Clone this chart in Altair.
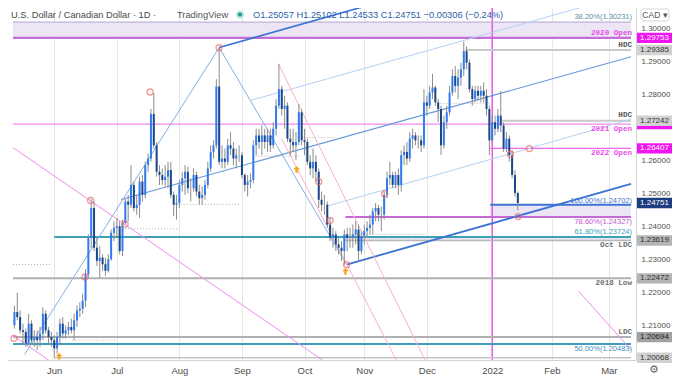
import altair as alt
import pandas as pd

# ---------------- data ----------------
first_open = 1.2105
close = [
    1.2145, 1.2130, 1.2090,
    1.2085, 1.2050, 1.2110, 1.2060, 1.2070,
    1.2060, 1.2080, 1.2140, 1.2090, 1.2070,
    1.2060, 1.2035, 1.2070, 1.2110, 1.2080,
    1.2090, 1.2100, 1.2090, 1.2120, 1.2150,
    1.2155, 1.2180, 1.2260, 1.2370, 1.2460,
    1.2340, 1.2300, 1.2310, 1.2290, 1.2270,
    1.2305, 1.2385, 1.2400, 1.2405, 1.2330,
    1.2415, 1.2480, 1.2470, 1.2530, 1.2460,
    1.2470, 1.2540, 1.2500, 1.2590, 1.2610,
    1.2745, 1.2650, 1.2570, 1.2560, 1.2545,
    1.2555, 1.2575, 1.2500, 1.2470, 1.2475,
    1.2530, 1.2550, 1.2570, 1.2520, 1.2520,
    1.2560, 1.2510, 1.2490, 1.2500, 1.2530,
    1.2580, 1.2630, 1.2650, 1.2828, 1.2600,
    1.2610, 1.2600, 1.2650, 1.2640, 1.2610,
    1.2620, 1.2620, 1.2560, 1.2530, 1.2540,
    1.2545, 1.2650, 1.2680, 1.2660, 1.2680,
    1.2660, 1.2680, 1.2650, 1.2700, 1.2770,
    1.2820, 1.2760, 1.2770, 1.2670, 1.2660,
    1.2650, 1.2660, 1.2750, 1.2665, 1.2660,
    1.2600, 1.2580, 1.2600, 1.2570, 1.2485,
    1.2470, 1.2470, 1.2410, 1.2370, 1.2380,
    1.2350, 1.2340, 1.2330, 1.2380, 1.2370,
    1.2370, 1.2380, 1.2395, 1.2330, 1.2375,
    1.2390, 1.2400, 1.2410, 1.2450, 1.2460,
    1.2440, 1.2440, 1.2500, 1.2550, 1.2560,
    1.2530, 1.2560, 1.2530, 1.2620, 1.2630,
    1.2610, 1.2670, 1.2680, 1.2665, 1.2665,
    1.2650, 1.2780, 1.2770, 1.2810, 1.2825,
    1.2780, 1.2760, 1.2650, 1.2720, 1.2750,
    1.2810, 1.2860, 1.2830, 1.2855, 1.2880,
    1.2935, 1.2900, 1.2820, 1.2790, 1.2815,
    1.2800, 1.2815, 1.2800, 1.2760, 1.2665,
    1.2720, 1.2700, 1.2740, 1.2710, 1.2640,
    1.2670, 1.2620, 1.2560, 1.25057, 1.24751,
]
high = [
    1.2165, 1.2204, 1.2150,
    1.2110, 1.2095, 1.2140, 1.2120, 1.2090,
    1.2090, 1.2100, 1.2160, 1.2150, 1.2100,
    1.2085, 1.2075, 1.2085, 1.2125, 1.2130,
    1.2105, 1.2115, 1.2125, 1.2140, 1.2165,
    1.2175, 1.2200, 1.2275, 1.2380, 1.2487,
    1.2480, 1.2370, 1.2345, 1.2320, 1.2310,
    1.2320, 1.2395, 1.2420, 1.2430, 1.2420,
    1.2425, 1.2490, 1.2500, 1.2590, 1.2540,
    1.2500, 1.2555, 1.2560, 1.2600, 1.2625,
    1.2760, 1.2808, 1.2660, 1.2590, 1.2580,
    1.2590, 1.2600, 1.2600, 1.2510, 1.2500,
    1.2545, 1.2570, 1.2590, 1.2585, 1.2550,
    1.2580, 1.2570, 1.2530, 1.2525, 1.2545,
    1.2600, 1.2650, 1.2665, 1.2850, 1.2949,
    1.2650, 1.2640, 1.2670, 1.2690, 1.2660,
    1.2640, 1.2650, 1.2630, 1.2565, 1.2560,
    1.2565, 1.2665, 1.2700, 1.2700, 1.2710,
    1.2700, 1.2700, 1.2700, 1.2720, 1.2790,
    1.2896, 1.2830, 1.2800, 1.2780, 1.2700,
    1.2700, 1.2690, 1.2775, 1.2760, 1.2700,
    1.2670, 1.2620, 1.2640, 1.2620, 1.2580,
    1.2510, 1.2500, 1.2480, 1.2430, 1.2400,
    1.2390, 1.2370, 1.2360, 1.2395, 1.2400,
    1.2400, 1.2410, 1.2420, 1.2410, 1.2390,
    1.2410, 1.2420, 1.2440, 1.2460, 1.2475,
    1.2470, 1.2465, 1.2510, 1.2570, 1.2600,
    1.2570, 1.2570, 1.2580, 1.2635, 1.2650,
    1.2660, 1.2690, 1.2700, 1.2690, 1.2680,
    1.2680, 1.2820, 1.2800, 1.2830, 1.2866,
    1.2830, 1.2790, 1.2770, 1.2740, 1.2770,
    1.2830, 1.2880, 1.2890, 1.2880, 1.2900,
    1.2964, 1.2950, 1.2910, 1.2830, 1.2830,
    1.2830, 1.2830, 1.2840, 1.2820, 1.2770,
    1.2740, 1.2740, 1.2760, 1.2815, 1.2720,
    1.2690, 1.2680, 1.2635, 1.2575, 1.25102,
]
low = [
    1.2095, 1.2120, 1.2080,
    1.2050, 1.2040, 1.2045, 1.2050, 1.2040,
    1.2030, 1.2040, 1.2060, 1.2080, 1.2050,
    1.2040, 1.2007, 1.2020, 1.2045, 1.2065,
    1.2065, 1.2075, 1.2080, 1.2060, 1.2100,
    1.2130, 1.2140, 1.2160, 1.2250, 1.2340,
    1.2330, 1.2285, 1.2250, 1.2270, 1.2255,
    1.2265, 1.2300, 1.2360, 1.2370, 1.2320,
    1.2315, 1.2410, 1.2420, 1.2460, 1.2450,
    1.2440, 1.2430, 1.2480, 1.2490, 1.2570,
    1.2600, 1.2640, 1.2555, 1.2530, 1.2530,
    1.2525, 1.2520, 1.2490, 1.2435, 1.2425,
    1.2460, 1.2510, 1.2500, 1.2505, 1.2480,
    1.2510, 1.2495, 1.2470, 1.2470, 1.2485,
    1.2520, 1.2570, 1.2610, 1.2640, 1.2590,
    1.2580, 1.2580, 1.2590, 1.2620, 1.2590,
    1.2580, 1.2600, 1.2550, 1.2510, 1.2495,
    1.2520, 1.2535, 1.2620, 1.2640, 1.2620,
    1.2640, 1.2630, 1.2630, 1.2640, 1.2680,
    1.2760, 1.2740, 1.2700, 1.2660, 1.2620,
    1.2630, 1.2605, 1.2650, 1.2650, 1.2620,
    1.2590, 1.2560, 1.2550, 1.2540, 1.2460,
    1.2450, 1.2440, 1.2400, 1.2360, 1.2340,
    1.2330, 1.2320, 1.2300, 1.2288, 1.2330,
    1.2340, 1.2340, 1.2350, 1.2300, 1.2320,
    1.2350, 1.2370, 1.2380, 1.2380, 1.2420,
    1.2420, 1.2390, 1.2425, 1.2490, 1.2530,
    1.2520, 1.2520, 1.2500, 1.2510, 1.2590,
    1.2590, 1.2600, 1.2640, 1.2650, 1.2640,
    1.2630, 1.2640, 1.2740, 1.2760, 1.2790,
    1.2770, 1.2720, 1.2621, 1.2640, 1.2700,
    1.2740, 1.2800, 1.2810, 1.2790, 1.2830,
    1.2860, 1.2880, 1.2810, 1.2770, 1.2780,
    1.2785, 1.2780, 1.2780, 1.2740, 1.2620,
    1.2660, 1.2680, 1.2690, 1.2690, 1.2630,
    1.2630, 1.2600, 1.2550, 1.2495, 1.24533,
]

month_idx = [14, 36, 58, 80, 102, 123, 145, 168, 189, 209]
month_lbl = ["Jun", "Jul", "Aug", "Sep", "Oct", "Nov", "Dec", "2022", "Feb", "Mar"]
# 1.27000 sits behind the HDC / 2021-open badges in the reference, so it is not listed
price_ticks = [1.21, 1.22, 1.23, 1.24, 1.25, 1.26, 1.28, 1.29, 1.30]

# horizontal levels: name, price, first bar index
lvl_names = ["fib382", "open2020", "hdc1", "hdc2", "open2021", "open2022", "fib100",
             "fib786", "fib618", "octldc", "low2018", "ldc", "fib50", "junlow"]
lvl_price = [1.30231, 1.29753, 1.29385, 1.27242, 1.2714, 1.26407, 1.24702,
             1.24327, 1.23724, 1.23619, 1.22472, 1.20694, 1.20483, 1.20068]
lvl_start = [-0.5, -0.5, 158.5, 171.5, -0.5, 167.3, 167.3,
             116.4, 14, 116.4, -0.5, -0.5, -0.5, 14]

lbl_text = ["38.20%(1.30231)", "2020 Open", "HDC", "HDC", "2021 Open", "2022 Open",
            "100.00%(1.24702)", "78.60%(1.24327)", "61.80%(1.23724)", "Oct LDC",
            "2018 Low", "LDC", "50.00%(1.20483)"]
lbl_price = [1.30231, 1.29753, 1.29385, 1.27242, 1.2714, 1.26407, 1.24702,
             1.24327, 1.23724, 1.23619, 1.22472, 1.20694, 1.20483]

# shaded zones: first bar, low price, high price
zone_x1 = [-0.5, 167.3, 116.4]
zone_lo = [1.29753, 1.24327, 1.23619]
zone_hi = [1.30231, 1.24702, 1.23724]

# trend lines / pitchfork / channels: (bar, price) -> (bar, price)
ln_names = ["abcd1", "abcd2", "fork_up", "fork_lo", "fork_med", "half_up", "half_lo",
            "mag1", "mag2", "mag3", "pinkA", "pinkB"]
ln_x1 = [3.6, 72.0, 72.0, 116.8, 37.6, 83.1, 110.0, -0.5, -0.5, 198.3, 92.8, 93.9]
ln_p1 = [1.2017, 1.2946, 1.2946, 1.2289, 1.2486, 1.2786, 1.2466, 1.2643, 1.2074, 1.2209, 1.2897, 1.2671]
ln_x2 = [72.0, 116.8, 216.8, 216.8, 216.8, 216.8, 216.8, 108.3, 12.0, 216.8, 144.4, 134.3]
ln_p2 = [1.2946, 1.2289, 1.3299, 1.2533, 1.2918, 1.3110, 1.2729, 1.2000, 1.2000, 1.2031, 1.2000, 1.2000]

# dotted short levels
dot_x1 = [-0.5, 20.4, 38.9, 58.5, 84.8, 101.6, 116.4, 148.8]
dot_x2 = [13.0, 35.6, 57.5, 79.4, 100.6, 113.1, 144.4, 167.0]
dot_p = [1.2289, 1.2060, 1.2397, 1.2471, 1.2617, 1.2674, 1.2380, 1.2777]

# pivot circles and arrows
circ_x = [-0.15, 24.8, 26.8, 38.9, 47.7, 71.95, 107.0, 111.0, 116.8, 130.2, 174.4, 181.1, 177.1]
circ_p = [1.20657, 1.22514, 1.24829, 1.24114, 1.28114, 1.29457, 1.2540, 1.24229,
          1.22886, 1.25029, 1.26229, 1.2640, 1.24343]
arrow_x = [15.7, 99.2, 116.4]
arrow_p = [1.20114, 1.25771, 1.22686]

# right-axis price badges ("" = badge hidden behind its neighbour)
badge_p = [1.29753, 1.29385, 1.2714, 1.27242, 1.26407, 1.24751, 1.23619, 1.22472, 1.20694, 1.20068]
badge_t = ["1.29753", "1.29385", "", "1.27242", "1.26407", "1.24751",
           "1.23619", "1.22472", "1.20694", "1.20068"]
badge_k = ["mag", "light", "mag", "light", "mag", "last", "mid", "mid", "dark", "light"]

header_title = "U.S. Dollar / Canadian Dollar · 1D ·"
header_src = "TradingView"
header_ohlc = "O1.25057 H1.25102 L1.24533 C1.24751 −0.00306 (−0.24%)"

# ---------------- styles ----------------
W, H = 628, 352
X_DOMAIN = [-0.5, 216.8]
Y_DOMAIN = [1.2000, 1.30657]
SANS = "Liberation Sans"
MONO = "Liberation Mono"
UP, DOWN, WICK = "#2f7bef", "#1d4689", "#8c8c8c"
MAG = "#ea4de9"
BADGE_HALF = 5.2

lvl_style = {
    "fib382": ("#b3a7cf", 1), "open2020": ("#c46fd8", 2.2), "hdc1": ("#c9c9c9", 2),
    "hdc2": ("#c9c9c9", 2), "open2021": ("#f28af2", 1.2), "open2022": ("#f068f0", 1.2),
    "fib100": ("#3f73d1", 2), "fib786": ("#c46ad4", 2), "fib618": ("#3da2b8", 2),
    "octldc": ("#b8b8b8", 1.5), "low2018": ("#b0b0b0", 2), "ldc": ("#b0b0b0", 2),
    "fib50": ("#3f9cbc", 2), "junlow": ("#c4c4c4", 1.5),
}
# color, dy, font, weight, size
lbl_style = [
    ("#5b8ea3", -5, SANS, "normal", 7.5), (MAG, -5, MONO, "bold", 7.6),
    ("#555555", -5, MONO, "bold", 7.6), ("#555555", -6, MONO, "bold", 7.6),
    (MAG, 5, MONO, "bold", 7.6), (MAG, 5, MONO, "bold", 7.6),
    ("#3f73d1", -3.5, SANS, "normal", 7.5), ("#c45ad0", 4.5, SANS, "normal", 7.5),
    ("#3a9fb8", -4.5, SANS, "normal", 7.5), ("#6d6d6d", 5, MONO, "bold", 7.6),
    ("#6d6d6d", 5, MONO, "bold", 7.6), ("#6d6d6d", -5.5, MONO, "bold", 7.6),
    ("#4a8fc4", 4.5, SANS, "normal", 7.5),
]
ln_style = {
    "abcd1": ("#7fb0e8", 1), "abcd2": ("#7fb0e8", 1), "fork_up": ("#3b73d4", 1.6),
    "fork_lo": ("#3b73d4", 1.8), "fork_med": ("#6496db", 1.1), "half_up": ("#b5d0f3", 1),
    "half_lo": ("#b5d0f3", 1), "mag1": ("#f08cf0", 1), "mag2": ("#f08cf0", 1),
    "mag3": ("#f08cf0", 1), "pinkA": ("#f7b3c2", 1), "pinkB": ("#f7b3c2", 1),
}
badge_style = {"mag": ("#f014f0", "white"), "light": ("#d2d2d2", "#333333"),
               "mid": ("#b4b4b4", "#333333"), "dark": ("#a2a2a2", "#222222"),
               "last": ("#1c3d7e", "white")}

label_expr = "".join(f"datum.value == {v} ? '{t}' : " for v, t in zip(month_idx, month_lbl)) + "''"

xs = alt.Scale(domain=X_DOMAIN, nice=False, zero=False)
ys = alt.Scale(domain=Y_DOMAIN, nice=False, zero=False)
x_axis = alt.Axis(values=month_idx, labelExpr=label_expr, grid=True, gridColor="#e6e6e6",
                  ticks=False, domain=True, domainColor="#d4d4d4", labelFont=SANS,
                  labelFontSize=9.5, labelColor="#4d4d4d", labelPadding=5, title=None,
                  labelFlush=False, labelOverlap=False)
y_axis = alt.Axis(orient="right", values=price_ticks, format=".5f", grid=False, ticks=False,
                  domain=True, domainColor="#d4d4d4", labelFont=SANS, labelFontSize=8,
                  labelColor="#4d4d4d", labelPadding=5, labelOffset=-1.2, title=None,
                  labelOverlap=False)


def X(f):
    return alt.X(f, type="quantitative", scale=xs, axis=x_axis)


def Y(f):
    return alt.Y(f, type="quantitative", scale=ys, axis=y_axis)


# ---------------- candles table ----------------
opens = [first_open] + close[:-1]
rows = []
for i, (o, h, l, c) in enumerate(zip(opens, high, low, close)):
    rows.append({"i": i, "open": o, "close": c, "high": max(h, o, c), "low": min(l, o, c),
                 "dir": "up" if c >= o else "down"})
candles = pd.DataFrame(rows)

layers = []

# shaded zones
zones = pd.DataFrame({"x1": zone_x1, "x2": [X_DOMAIN[1]] * 3, "lo": zone_lo, "hi": zone_hi})
layers.append(alt.Chart(zones).mark_rect(color="#ebe5f5", clip=True).encode(
    x=X("x1"), x2="x2", y=Y("lo"), y2="hi"))

# 2022 vertical marker
layers.append(alt.Chart(pd.DataFrame({"i": [month_idx[7]]})).mark_rule(
    color="#e84ce8", strokeWidth=1.4).encode(x=X("i")))

# dotted short levels
dots = pd.DataFrame({"x1": dot_x1, "x2": dot_x2, "p": dot_p})
layers.append(alt.Chart(dots).mark_rule(color="#b0b0b0", strokeDash=[1, 2], strokeWidth=1).encode(
    x=X("x1"), x2="x2", y=Y("p")))

# horizontal levels
for n, p, s in zip(lvl_names, lvl_price, lvl_start):
    col, sw = lvl_style[n]
    d = pd.DataFrame({"x1": [s], "x2": [X_DOMAIN[1]], "p": [p]})
    layers.append(alt.Chart(d).mark_rule(color=col, strokeWidth=sw).encode(
        x=X("x1"), x2="x2", y=Y("p")))

# trend lines
for n, a, b, c2, d2 in zip(ln_names, ln_x1, ln_p1, ln_x2, ln_p2):
    col, sw = ln_style[n]
    d = pd.DataFrame({"x1": [a], "p1": [b], "x2": [c2], "p2": [d2]})
    layers.append(alt.Chart(d).mark_rule(color=col, strokeWidth=sw, clip=True).encode(
        x=X("x1"), y=Y("p1"), x2="x2", y2="p2"))

# candles
layers.append(alt.Chart(candles).mark_rule(color=WICK, strokeWidth=1).encode(
    x=X("i"), y=Y("low"), y2="high"))
layers.append(alt.Chart(candles).mark_bar(width=2).encode(
    x=X("i"), y=Y("open"), y2="close",
    color=alt.Color("dir:N", scale=alt.Scale(domain=["up", "down"], range=[UP, DOWN]), legend=None),
))

# pivot circles and arrows
circ = pd.DataFrame({"i": circ_x, "p": circ_p})
layers.append(alt.Chart(circ).mark_point(shape="circle", filled=False, color="#f06b6b",
                                         strokeWidth=1.3, size=36).encode(x=X("i"), y=Y("p")))
arr = pd.DataFrame({"i": arrow_x, "p": arrow_p})
layers.append(alt.Chart(arr).mark_point(
    shape="M0,-1L1,0L0.35,0L0.35,1L-0.35,1L-0.35,0L-1,0Z", filled=True, color="#f5a31a",
    opacity=1, size=45).encode(x=X("i"), y=Y("p")))

# level labels
for t, p, (col, dy, font, wt, fs) in zip(lbl_text, lbl_price, lbl_style):
    d = pd.DataFrame({"t": [t], "p": [p]})
    layers.append(alt.Chart(d).mark_text(align="right", baseline="middle", dy=dy, color=col,
                                         font=font, fontWeight=wt, fontSize=fs).encode(
        x=alt.value(W - 4), y=Y("p"), text="t:N"))

# right-axis badges
for p, t, k in zip(badge_p, badge_t, badge_k):
    bg, fg = badge_style[k]
    d = pd.DataFrame({"t": [t], "p": [p]})
    layers.append(alt.Chart(d).mark_rect(color=bg, yOffset=-BADGE_HALF, y2Offset=BADGE_HALF).encode(
        x=alt.value(W + 1), x2=alt.value(W + 36), y=Y("p"), y2="p:Q"))
    if t:
        layers.append(alt.Chart(d).mark_text(align="center", baseline="middle", color=fg,
                                             font=SANS, fontSize=8).encode(
            x=alt.value(W + 18.5), y=Y("p"), text="t:N"))

# header
hdr = pd.DataFrame({"a": [header_title], "b": [header_src], "c": [header_ohlc], "d": ["CAD ▾"], "g": ["⚙"]})
layers.append(alt.Chart(hdr).mark_text(align="left", baseline="middle", font=SANS, fontSize=9.3,
                                       color="#4a4a4a").encode(x=alt.value(3), y=alt.value(6.5), text="a:N"))
layers.append(alt.Chart(hdr).mark_text(align="left", baseline="middle", font=SANS, fontSize=9.3,
                                       color="#555555").encode(x=alt.value(169), y=alt.value(6.5), text="b:N"))
layers.append(alt.Chart(hdr).mark_point(shape="circle", filled=True, color="#b8e3dc", size=60,
                                        opacity=1).encode(x=alt.value(232), y=alt.value(6.5)))
layers.append(alt.Chart(hdr).mark_point(shape="circle", filled=True, color="#1f9c8a", size=18,
                                        opacity=1).encode(x=alt.value(232), y=alt.value(6.5)))
layers.append(alt.Chart(hdr).mark_text(align="left", baseline="middle", font=SANS, fontSize=9.3,
                                       color="#2e5ea8").encode(x=alt.value(245), y=alt.value(6.5), text="c:N"))
layers.append(alt.Chart(hdr).mark_rect(fill="white", stroke="#d8d8d8", cornerRadius=3).encode(
    x=alt.value(W + 5), x2=alt.value(W + 33), y=alt.value(1), y2=alt.value(13)))
layers.append(alt.Chart(hdr).mark_text(align="center", baseline="middle", font=SANS, fontSize=8.5,
                                       color="#555555").encode(x=alt.value(W + 19), y=alt.value(7), text="d:N"))
layers.append(alt.Chart(hdr).mark_text(align="center", baseline="middle", font="DejaVu Sans", fontSize=11,
                                       color="#666666").encode(x=alt.value(W + 18), y=alt.value(H + 10), text="g:N"))

chart = alt.layer(*layers).properties(
    width=W, height=H,
    padding={"left": 0, "top": 0, "right": 36, "bottom": 20},
    autosize=alt.AutoSizeParams(type="none"),
    background="white",
).configure_view(strokeWidth=0)

chart.save("out.html", embed_options={"renderer": "svg", "actions": False})
